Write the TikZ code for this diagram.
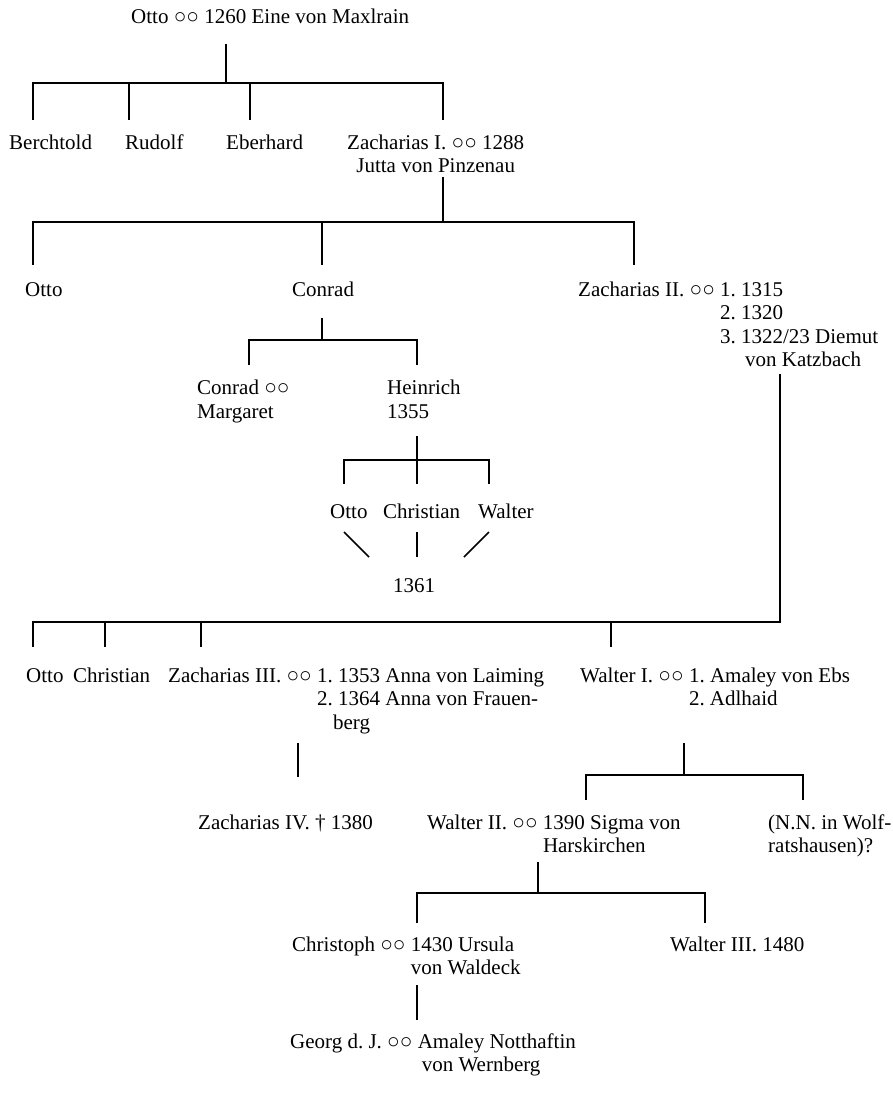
\documentclass[tikz,border=0pt]{standalone}
\usepackage{fontspec}
\setmainfont{Liberation Serif}
\newcommand{\ehe}{○○}
\frenchspacing
\begin{document}
\begin{tikzpicture}[x=1pt,y=-1pt,
  lbl/.style={inner sep=0pt, anchor=base west, align=left, font=\fontsize{21}{23.5}\selectfont},
  ln/.style={line width=1.5pt}]
\useasboundingbox (0,0) rectangle (893,1104);
% texts (multi-line nodes: anchor at the baseline of their last line)
\node[lbl] (otto0) at (131,23) {Otto \ehe\ 1260 Eine von Maxlrain};
\node[lbl] (berchtold) at (9,149) {Berchtold};
\node[lbl] (rudolf) at (125,149) {Rudolf};
\node[lbl] (eberhard) at (226,149) {Eberhard};
\node[lbl, align=center] (zach1) at (347,172.5) {Zacharias I. \ehe\ 1288\\Jutta von Pinzenau};
\node[lbl] (otto1) at (25,296) {Otto};
\node[lbl] (conrad1) at (292,296) {Conrad};
\node[lbl] (zach2) at (578,366.5) {Zacharias II. \ehe\ 1. 1315\\\hphantom{Zacharias II. \ehe\ }2. 1320\\\hphantom{Zacharias II. \ehe\ }3. 1322/23 Diemut\\\hphantom{Zacharias II. \ehe\ 3. }\hspace{4pt}von Katzbach};
\node[lbl, font=\fontsize{21}{24.5}\selectfont] (conrad2) at (197,418.5) {Conrad \ehe\\Margaret};
\node[lbl, font=\fontsize{21}{24.5}\selectfont] (heinrich) at (387,418.5) {Heinrich\\1355};
\node[lbl] (otto2) at (330,518) {Otto};
\node[lbl] (christian2) at (383,518) {Christian};
\node[lbl] (walter2) at (478,518) {Walter};
\node[lbl] (y1361) at (393,592) {1361};
\node[lbl] (otto3) at (26,682) {Otto};
\node[lbl] (christian3) at (73,682) {Christian};
\node[lbl] (zach3) at (168,729) {Zacharias III. \ehe\ 1. 1353 Anna von Laiming\\\hphantom{Zacharias III. \ehe\ }2. 1364 Anna von Frauen-\\\hphantom{Zacharias III. \ehe\ }\hspace{16pt}berg};
\node[lbl] (walter1) at (580,705.5) {Walter I. \ehe\ 1. Amaley von Ebs\\\hphantom{Walter I. \ehe\ }2. Adlhaid};
\node[lbl] (zach4) at (198,829) {Zacharias IV. † 1380};
\node[lbl] (walterII) at (427,852.5) {Walter II. \ehe\ 1390 Sigma von\\\hphantom{Walter II. \ehe\ }Harskirchen};
\node[lbl] (nn) at (768,852.5) {(N.N. in Wolf-\\ratshausen)?};
\node[lbl] (christoph) at (292,974.5) {Christoph \ehe\ 1430 Ursula\\\hphantom{Christoph \ehe\ }von Waldeck};
\node[lbl] (walter3) at (670,951) {Walter III. 1480};
\node[lbl] (georg) at (290,1071.5) {Georg d. J. \ehe\ Amaley Notthaftin\\\hphantom{Georg d. J. \ehe\ }\hspace{4pt}von Wernberg};
% connectors
\draw[ln] (226,44) -- (226,83);
\draw[ln] (33,120) -- (33,83) -- (443,83) -- (443,120);
\draw[ln] (129,83) -- (129,120);
\draw[ln] (250,83) -- (250,120);
\draw[ln] (443,177) -- (443,222);
\draw[ln] (33,265) -- (33,222) -- (634,222) -- (634,265);
\draw[ln] (322,222) -- (322,265);
\draw[ln] (322,318) -- (322,340);
\draw[ln] (249,365) -- (249,340) -- (417,340) -- (417,365);
\draw[ln] (417,436) -- (417,484);
\draw[ln] (344,484) -- (344,460) -- (489,460) -- (489,484);
\draw[ln] (344,532) -- (369,557);
\draw[ln] (417,532) -- (417,557);
\draw[ln] (489,532) -- (464,557);
\draw[ln] (780,374) -- (780,622) -- (33,622) -- (33,647);
\draw[ln] (105,622) -- (105,647);
\draw[ln] (201,622) -- (201,647);
\draw[ln] (611,622) -- (611,647);
\draw[ln] (298,743) -- (298,777);
\draw[ln] (684,743) -- (684,775);
\draw[ln] (586,800) -- (586,775) -- (803,775) -- (803,800);
\draw[ln] (538,862) -- (538,893);
\draw[ln] (417,923) -- (417,893) -- (705,893) -- (705,923);
\draw[ln] (417,985) -- (417,1020);
\end{tikzpicture}
\end{document}
